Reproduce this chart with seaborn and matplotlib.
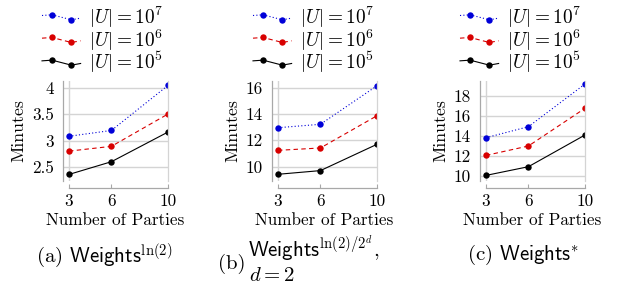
import numpy as np
import pandas as pd
import seaborn as sns
import matplotlib
matplotlib.use("Agg")
import matplotlib.pyplot as plt
from matplotlib.lines import Line2D
from matplotlib.legend_handler import HandlerLine2D

# data (minutes)
parties = [3, 6, 10]
series_labels = [r"$|U| = 10^7$", r"$|U| = 10^6$", r"$|U| = 10^5$"]

a_u7 = [3.08, 3.19, 4.04]
a_u6 = [2.80, 2.89, 3.50]
a_u5 = [2.36, 2.60, 3.16]

b_u7 = [12.96, 13.22, 16.15]
b_u6 = [11.24, 11.42, 13.87]
b_u5 = [9.42, 9.70, 11.70]

c_u7 = [13.80, 14.90, 19.17]
c_u6 = [12.03, 12.97, 16.74]
c_u5 = [10.03, 10.90, 14.07]

a_yticks = [2.5, 3, 3.5, 4]
b_yticks = [10, 12, 14, 16]
c_yticks = [10, 12, 14, 16, 18]

COLORS = ["#0000d8", "#d80000", "#000000"]
STYLES = [(0, (1, 2)), (0, (4, 3)), "-"]
SPINE = "#a8a8a8"
GRID = "#d4d4d4"
W, H = 619, 296


class ZigZag(HandlerLine2D):
    # pgfplots-like legend image: line through two marks at different heights
    def create_artists(self, legend, orig_handle, xdescent, ydescent,
                       width, height, fontsize, trans):
        xs = np.array([0.0, 0.26, 0.76, 1.0]) * width - xdescent
        yc = (height - ydescent) / 2
        ys = yc + np.array([1.2, 1.7, -1.9, -0.7])
        line = Line2D(xs, ys)
        self.update_prop(line, orig_handle, legend)
        line.set_markevery([1, 2])
        line.set_transform(trans)
        return [line]


def make_panel(fig, left_px, values, ylim, yticks, leg_x_px):
    ax = fig.add_axes([left_px / W, (H - 181) / H, 105 / W, 100 / H])
    df = pd.DataFrame({
        "parties": parties * 3,
        "minutes": values[0] + values[1] + values[2],
        "size": [series_labels[0]] * 3 + [series_labels[1]] * 3 + [series_labels[2]] * 3,
    })
    for lab, col, ls in zip(series_labels, COLORS, STYLES):
        sns.lineplot(data=df[df["size"] == lab], x="parties", y="minutes", ax=ax,
                     color=col, linestyle=ls, linewidth=0.8, marker="o",
                     markersize=4.6, markeredgewidth=0, label=lab, legend=False)

    ax.set_xlim(3 - 6 / 99 * 7, 10)
    ax.set_ylim(*ylim)
    ax.set_xticks(parties)
    ax.set_xticklabels([str(p) for p in parties])
    ax.set_yticks(yticks)
    ax.set_yticklabels([f"{t:g}" for t in yticks])

    for y in yticks:
        ax.axhline(y, color=GRID, lw=1.0, zorder=0)
    ax.axvline(3, color=GRID, lw=1.0, zorder=0)

    ax.spines["top"].set_visible(False)
    ax.spines["right"].set_color(GRID)
    ax.spines["left"].set_color(SPINE)
    ax.spines["bottom"].set_color(SPINE)
    ax.spines["bottom"].set_position(("outward", 5))
    ax.spines["bottom"].set_bounds(3, 10)
    for s in ax.spines.values():
        s.set_linewidth(0.9)

    ax.tick_params(axis="y", length=0, pad=6.5, labelsize=12.3)
    ax.tick_params(axis="x", direction="in", length=3, color=SPINE, pad=4, labelsize=12.3)
    ax.set_xlabel("Number of Parties", fontsize=12.3, labelpad=3)
    ax.set_ylabel("Minutes", fontsize=12.8, labelpad=4)

    handles, labels = ax.get_legend_handles_labels()
    ax.legend(handles, labels, loc="center left",
              bbox_to_anchor=(leg_x_px / W, (H - 40) / H), bbox_transform=fig.transFigure,
              frameon=False, borderpad=0, borderaxespad=0, handlelength=2.0,
              handletextpad=0.45, labelspacing=-0.13, fontsize=13.9,
              handler_map={Line2D: ZigZag(numpoints=2)})
    return ax


def main():
    plt.rcParams["font.family"] = "serif"
    plt.rcParams["font.serif"] = ["cmr10"]
    plt.rcParams["mathtext.fontset"] = "cm"
    plt.rcParams["axes.formatter.use_mathtext"] = True

    fig = plt.figure(figsize=(W / 100, H / 100), dpi=100)

    make_panel(fig, 63, [a_u7, a_u6, a_u5], (2.236, 4.123), a_yticks, 42)
    make_panel(fig, 272, [b_u7, b_u6, b_u5], (8.91, 16.51), b_yticks, 253)
    make_panel(fig, 480, [c_u7, c_u6, c_u5], (9.47, 19.47), c_yticks, 460)

    cap = 15
    fig.text(36 / W, (H - 262) / H, r"(a) $\mathsf{Weights}^{\ln(2)}$",
             fontsize=cap, va="baseline", ha="left")
    fig.text(246 / W, (H - 269) / H, "(b)", fontsize=cap, va="baseline", ha="right")
    fig.text(248 / W, (H - 257) / H, r"$\mathsf{Weights}^{\ln(2)/2^d}$,",
             fontsize=cap, va="baseline", ha="left")
    fig.text(249 / W, (H - 281) / H, r"$d = 2$", fontsize=cap, va="baseline", ha="left")
    fig.text(467 / W, (H - 260) / H, r"(c) $\mathsf{Weights}^{*}$",
             fontsize=cap, va="baseline", ha="left")

    fig.savefig("out.png", dpi=100)
    plt.close(fig)


if __name__ == "__main__":
    main()
